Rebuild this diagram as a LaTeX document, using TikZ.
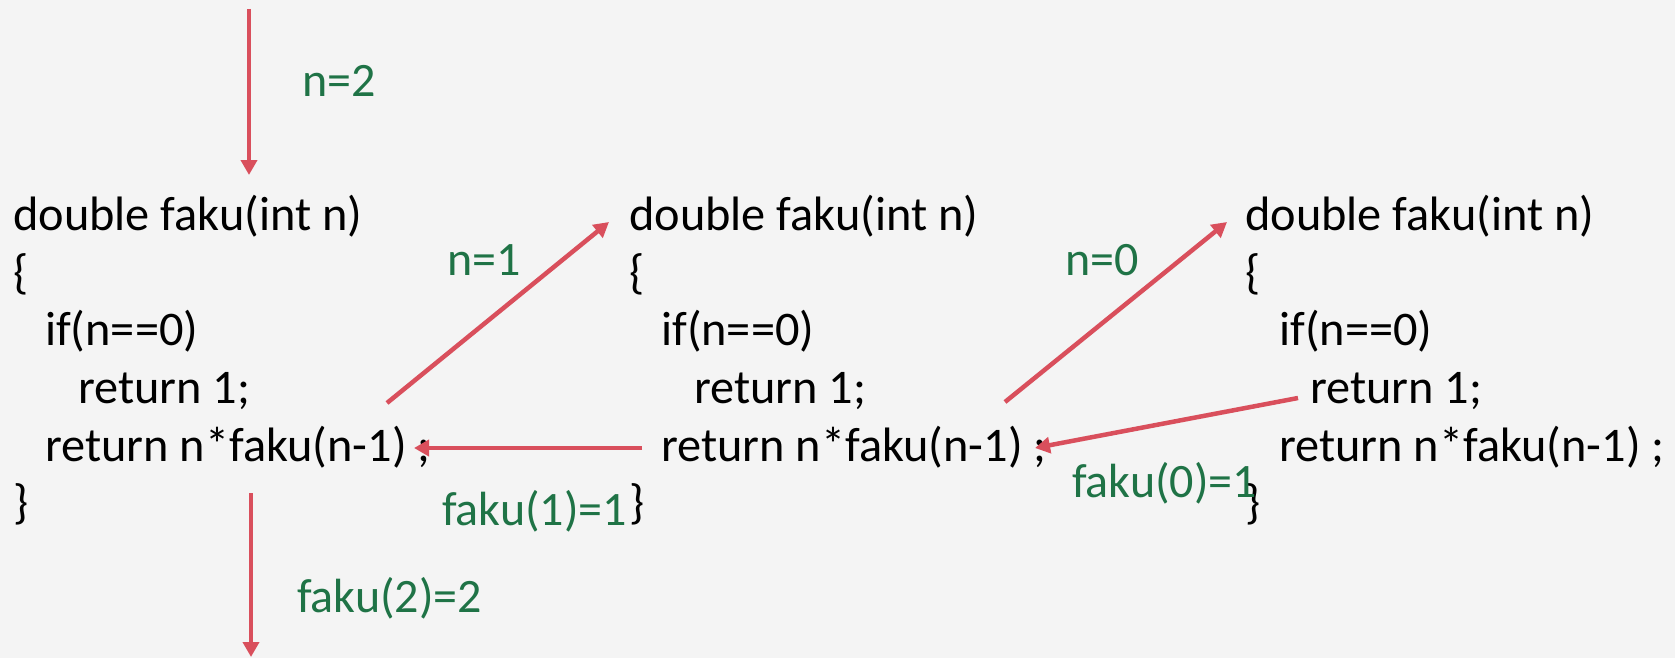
\documentclass[tikz,border=0pt]{standalone}
\usepackage{fontspec}
\setmainfont{Carlito}
\usetikzlibrary{arrows.meta}
\definecolor{bgc}{RGB}{244,244,244}
\definecolor{arrowred}{RGB}{217,79,92}
\definecolor{labgreen}{RGB}{31,115,70}
\tikzset{
  code/.style={anchor=base west,inner sep=0pt,text=black,font=\fontsize{48.3}{58}\selectfont},
  lab/.style={anchor=base west,inner sep=0pt,text=labgreen,font=\fontsize{48}{58}\selectfont},
  flow/.style={draw=arrowred,line width=4.5pt,-{Triangle[length=15pt,width=16pt]}}
}
\begin{document}
\begin{tikzpicture}[x=1pt,y=-1pt]
\fill[bgc] (0,0) rectangle (1675,658);
\useasboundingbox (0,0) rectangle (1675,658);
% left block
\node[code] (a1) at (13,230) {double faku(int n)};
\node[code] (a2) at (13,288) {\{};
\node[code] (a3) at (45,345) {if(n==0)};
\node[code] (a4) at (78,403) {return 1;};
\node[code] (a5) at (45,461) {return n*faku(n-1) ;};
\node[code] (a6) at (13,518) {\}};
% middle block
\node[code] (b1) at (629,230) {double faku(int n)};
\node[code] (b2) at (629,288) {\{};
\node[code] (b3) at (661,345) {if(n==0)};
\node[code] (b4) at (694,403) {return 1;};
\node[code] (b5) at (661,461) {return n*faku(n-1) ;};
\node[code] (b6) at (629,518) {\}};
% right block
\node[code] (c1) at (1245,230) {double faku(int n)};
\node[code] (c2) at (1245,288) {\{};
\node[code] (c3) at (1279,345) {if(n==0)};
\node[code] (c4) at (1310,403) {return 1;};
\node[code] (c5) at (1279,461) {return n*faku(n-1) ;};
\node[code] (c6) at (1245,518) {\}};
% labels
\node[lab] (l1) at (302,97) {n=2};
\node[lab] (l2) at (297,612) {faku(2)=2};
\node[lab] (l3) at (447,275) {n=1};
\node[lab] (l4) at (442,525) {faku(1)=1};
\node[lab] (l5) at (1065,275) {n=0};
\node[lab] (l6) at (1072,497) {faku(0)=1};
% connector ends
\coordinate (s0) at (249,9);
\coordinate (t0) at (249,175);
\coordinate (s1) at (387,403);
\coordinate (t1) at (609,222);
\coordinate (s2) at (642,448);
\coordinate (t2) at (414,448);
\coordinate (s3) at (1005,402);
\coordinate (t3) at (1227,222);
\coordinate (s4) at (1298,398);
\coordinate (t4) at (1035,448);
\coordinate (s5) at (251,493);
\coordinate (t5) at (251,657);
\draw[flow] (s0) -- (t0);
\draw[flow] (s1) -- (t1);
\draw[flow] (s2) -- (t2);
\draw[flow] (s3) -- (t3);
\draw[flow] (s4) -- (t4);
\draw[flow] (s5) -- (t5);
\end{tikzpicture}
\end{document}
